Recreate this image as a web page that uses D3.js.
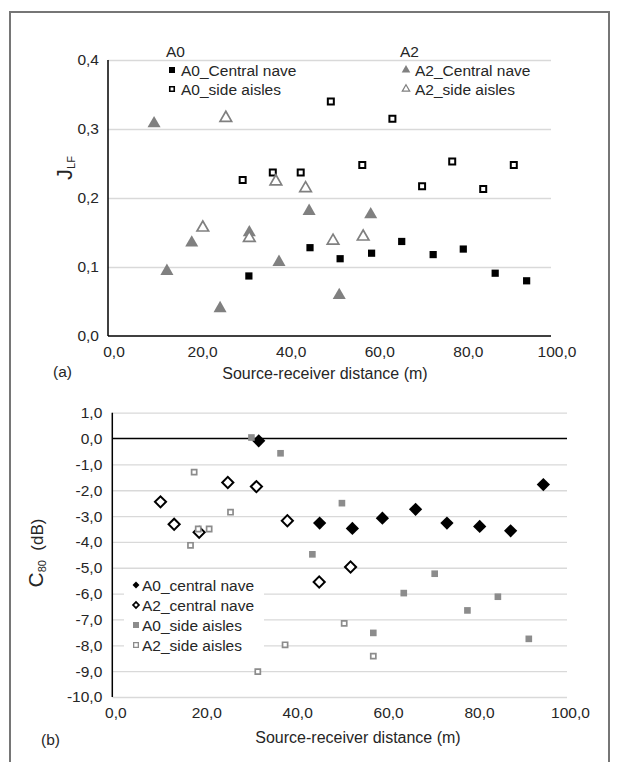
<!DOCTYPE html>
<html>
<head>
<meta charset="utf-8">
<script src="https://cdn.jsdelivr.net/npm/d3@7"></script>
<style>
  body { margin: 0; background: #fff; }
  text { font-family: "Liberation Sans", Arial, sans-serif; fill: #262626; }
</style>
</head>
<body>
<div class="graph"></div>
<script>
// ---- data ----
// (a) J_LF vs source-receiver distance, [distance, value]
const jlfA0Central = [[31.8,0.087],[45.6,0.128],[52.4,0.112],[59.5,0.120],[66.3,0.137],[73.4,0.118],[80.2,0.126],[87.4,0.091],[94.5,0.080]]
const jlfA0Side = [[30.4,0.226],[37.2,0.237],[43.5,0.237],[50.3,0.340],[57.4,0.248],[64.2,0.315],[70.9,0.217],[77.7,0.253],[84.7,0.213],[91.6,0.248]]
const jlfA2Central = [[10.4,0.308],[13.3,0.094],[18.9,0.135],[25.3,0.040],[31.9,0.150],[38.6,0.107],[45.4,0.181],[52.2,0.059],[59.3,0.176]]
const jlfA2Side = [[26.6,0.316],[21.4,0.157],[31.9,0.142],[37.9,0.224],[44.6,0.214],[50.8,0.138],[57.6,0.144]]
const jlfTicks = [0, 0.1, 0.2, 0.3, 0.4]

// (b) C80 vs source-receiver distance
const c80A0Central = [[32.2,-0.09],[45.6,-3.27],[52.8,-3.48],[59.4,-3.08],[66.7,-2.74],[73.6,-3.27],[80.8,-3.40],[87.6,-3.57],[94.8,-1.78]]
const c80A2Central = [[10.6,-2.45],[13.6,-3.32],[19.1,-3.63],[25.4,-1.70],[31.7,-1.86],[38.5,-3.18],[45.5,-5.55],[52.4,-4.97]]
const c80A0Side = [[30.6,0.04],[37.0,-0.57],[44.0,-4.48],[50.5,-2.50],[57.4,-7.52],[64.1,-5.98],[70.9,-5.23],[78.1,-6.65],[84.8,-6.12],[91.6,-7.75]]
const c80A2Side = [[18.0,-1.30],[26.0,-2.85],[18.9,-3.50],[21.3,-3.50],[17.2,-4.13],[38.0,-7.98],[32.0,-9.02],[51.0,-7.15],[57.4,-8.42]]
const c80Ticks = [1,0,-1,-2,-3,-4,-5,-6,-7,-8,-9,-10]

const xTicks = [0, 20, 40, 60, 80, 100]

const width = 619
const height = 762
const grid = "#d9d9d9"
const gray = "#808080"

const loc = d3.formatLocale({decimal: ",", thousands: ".", grouping: [3], currency: ["", ""], minus: "-"})
const f1 = loc.format(".1f")

const svg = d3.select(".graph").append("svg")
    .attr("width", width)
    .attr("height", height)

// outer frame
svg.append("path")
    .attr("d", "M10,770 V12 H609 V770")
    .attr("fill", "none")
    .attr("stroke", "#767676")
    .attr("stroke-width", 2)

const sym = (type, size) => d3.symbol().type(type).size(size)()

function drawPoints(g, data, x, y, path, fill, stroke, sw, rot) {
  g.append("g").selectAll("path")
    .data(data)
    .join("path")
      .attr("transform", d => `translate(${x(d[0])},${y(d[1])})` + (rot ? ` rotate(${rot})` : ""))
      .attr("d", path)
      .attr("fill", fill)
      .attr("stroke", stroke)
      .attr("stroke-width", sw)
}

// ================= (a) =================
const x1 = d3.scaleLinear().domain([0, 100]).range([108, 551])
const y1 = d3.scaleLinear().domain([0, 0.4]).range([336, 60])
const gTop = svg.append("g")

gTop.append("g")
    .attr("transform", `translate(${x1(0)},0)`)
    .call(d3.axisLeft(y1).tickValues(jlfTicks.filter(d => d > 0)).tickSize(-(x1(100) - x1(0))).tickFormat(""))
    .call(g => g.select(".domain").remove())
    .call(g => g.selectAll("line").attr("stroke", grid).attr("stroke-width", 1.3))

gTop.append("g")
    .attr("transform", `translate(${x1(0) - 6},0)`)
    .call(d3.axisLeft(y1).tickValues(jlfTicks).tickSize(0).tickFormat(f1))
    .call(g => g.select(".domain").remove())
    .call(g => g.selectAll("text").attr("font-size", 15.5).attr("fill", "#262626").attr("font-family", "Liberation Sans, Arial"))

gTop.append("g")
    .attr("transform", `translate(5.5,${y1(0) + 7})`)
    .call(d3.axisBottom(x1).tickValues(xTicks).tickSize(0).tickFormat(f1))
    .call(g => g.select(".domain").remove())
    .call(g => g.selectAll("text").attr("font-size", 15.5).attr("fill", "#262626").attr("font-family", "Liberation Sans, Arial"))

gTop.append("line").attr("x1", x1(0)).attr("x2", x1(0)).attr("y1", y1(0.4)).attr("y2", y1(0))
    .attr("stroke", "#000").attr("stroke-width", 1.5)
gTop.append("line").attr("x1", x1(0)).attr("x2", x1(100)).attr("y1", y1(0)).attr("y2", y1(0))
    .attr("stroke", "#000").attr("stroke-width", 1.5)

const tri = sym(d3.symbolTriangle, 74)
const triO = sym(d3.symbolTriangle, 58)
const sq = sym(d3.symbolSquare, 52)
const sqO = sym(d3.symbolSquare, 36)
drawPoints(gTop, jlfA0Central, x1, y1, sq, "#000", "none", 0)
drawPoints(gTop, jlfA0Side, x1, y1, sqO, "#fff", "#000", 2)
drawPoints(gTop, jlfA2Central, x1, y1, tri, gray, "none", 0)
drawPoints(gTop, jlfA2Side, x1, y1, triO, "#fff", gray, 1.7)

gTop.append("text").attr("x", 72).attr("y", 168)
    .attr("transform", "rotate(-90,72,168)")
    .attr("text-anchor", "middle")
    .call(t => t.append("tspan").attr("font-size", 22).text("J"))
    .call(t => t.append("tspan").attr("font-size", 11).attr("dy", 3).text("LF"))

gTop.append("text").attr("x", 325).attr("y", 379).attr("text-anchor", "middle")
    .attr("font-size", 16).text("Source-receiver distance (m)")
gTop.append("text").attr("x", 53).attr("y", 377).attr("font-size", 15.5).text("(a)")

// legend (a)
const legA = [
  {x: 166, head: "A0", items: [["A0_Central nave", sym(d3.symbolSquare, 36), "#000", "none", 0], ["A0_side aisles", sym(d3.symbolSquare, 20), "#fff", "#000", 1.6]]},
  {x: 400, head: "A2", items: [["A2_Central nave", sym(d3.symbolTriangle, 32), gray, "none", 0], ["A2_side aisles", sym(d3.symbolTriangle, 24), "#fff", gray, 1.2]]}
]
legA.forEach(l => {
  gTop.append("text").attr("x", l.x).attr("y", 57).attr("font-size", 15.5).text(l.head)
  l.items.forEach((it, i) => {
    const yy = 70 + i * 19
    gTop.append("path").attr("transform", `translate(${l.x + 6},${yy})`).attr("d", it[1])
        .attr("fill", it[2]).attr("stroke", it[3]).attr("stroke-width", it[4])
    gTop.append("text").attr("x", l.x + 15).attr("y", yy + 5.5).attr("font-size", 15.5).text(it[0])
  })
})

// ================= (b) =================
const x2 = d3.scaleLinear().domain([0, 100]).range([112.3, 567])
const y2 = d3.scaleLinear().domain([-10, 1]).range([697, 412.7])
const gBot = svg.append("g")

gBot.append("g")
    .attr("transform", `translate(${x2(0)},0)`)
    .call(d3.axisLeft(y2).tickValues(c80Ticks.filter(d => d !== 0)).tickSize(-(x2(100) - x2(0))).tickFormat(""))
    .call(g => g.select(".domain").remove())
    .call(g => g.selectAll("line").attr("stroke", grid).attr("stroke-width", 1.3))

gBot.append("g")
    .attr("transform", `translate(${x2(0) - 7},0)`)
    .call(d3.axisLeft(y2).tickValues(c80Ticks).tickSize(0).tickFormat(f1))
    .call(g => g.select(".domain").remove())
    .call(g => g.selectAll("text").attr("font-size", 15.5).attr("fill", "#262626").attr("font-family", "Liberation Sans, Arial"))

gBot.append("g")
    .attr("transform", `translate(3,${y2(-10) + 7})`)
    .call(d3.axisBottom(x2).tickValues(xTicks).tickSize(0).tickFormat(f1))
    .call(g => g.select(".domain").remove())
    .call(g => g.selectAll("text").attr("font-size", 15.5).attr("fill", "#262626").attr("font-family", "Liberation Sans, Arial"))

gBot.append("line").attr("x1", x2(0)).attr("x2", x2(0)).attr("y1", y2(1)).attr("y2", y2(-10))
    .attr("stroke", "#000").attr("stroke-width", 1.5)
gBot.append("line").attr("x1", x2(0)).attr("x2", x2(100)).attr("y1", y2(0)).attr("y2", y2(0))
    .attr("stroke", "#000").attr("stroke-width", 1.5)

const dia = sym(d3.symbolSquare, 88)
const diaO = sym(d3.symbolSquare, 62)
drawPoints(gBot, c80A0Central, x2, y2, dia, "#000", "none", 0, 45)
drawPoints(gBot, c80A2Central, x2, y2, diaO, "#fff", "#000", 2, 45)
drawPoints(gBot, c80A0Side, x2, y2, sym(d3.symbolSquare, 44), "#8c8c8c", "none", 0)
drawPoints(gBot, c80A2Side, x2, y2, sym(d3.symbolSquare, 26), "#fff", "#8c8c8c", 1.7)

gBot.append("text").attr("x", 43).attr("y", 553)
    .attr("transform", "rotate(-90,43,553)")
    .attr("text-anchor", "middle")
    .call(t => t.append("tspan").attr("font-size", 21).text("C"))
    .call(t => t.append("tspan").attr("font-size", 11).attr("dy", 3).text("80"))
    .call(t => t.append("tspan").attr("font-size", 17).attr("dy", -3).text("\u00a0\u00a0(dB)"))

gBot.append("text").attr("x", 358).attr("y", 743).attr("text-anchor", "middle")
    .attr("font-size", 16).text("Source-receiver distance (m)")
gBot.append("text").attr("x", 41).attr("y", 745).attr("font-size", 15.5).text("(b)")

// legend (b)
const legB = [
  ["A0_central nave", sym(d3.symbolSquare, 24), "#000", "none", 0, 45],
  ["A2_central nave", sym(d3.symbolSquare, 18), "#fff", "#000", 1.6, 45],
  ["A0_side aisles", sym(d3.symbolSquare, 36), "#8c8c8c", "none", 0, 0],
  ["A2_side aisles", sym(d3.symbolSquare, 22), "#fff", "#8c8c8c", 1.3, 0]
]
gBot.append("rect").attr("x", 124).attr("y", 574).attr("width", 140).attr("height", 80).attr("fill", "#fff")
legB.forEach((it, i) => {
  const yy = 585 + i * 20
  gBot.append("path").attr("transform", `translate(136,${yy}) rotate(${it[5]})`).attr("d", it[1])
      .attr("fill", it[2]).attr("stroke", it[3]).attr("stroke-width", it[4])
  gBot.append("text").attr("x", 142).attr("y", yy + 5.5).attr("font-size", 15.5).text(it[0])
})
</script>
</body>
</html>
